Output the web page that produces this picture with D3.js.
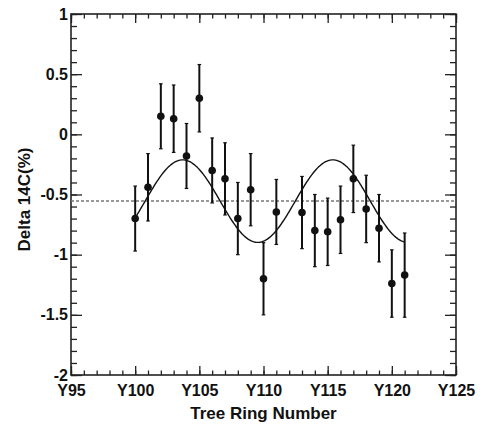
<!DOCTYPE html>
<html>
<head>
<meta charset="utf-8">
<script src="https://cdn.jsdelivr.net/npm/d3@7"></script>
<style>
  body { margin: 0; background: #fff; }
  svg text { font-family: "Liberation Sans", Arial, sans-serif; font-weight: bold; fill: #111; }
</style>
</head>
<body>
<svg id="chart" width="480" height="432"></svg>
<script>
// measured points
const years = [100, 101, 102, 103, 104, 105, 106, 107, 108, 109, 110, 111,
               113, 114, 115, 116, 117, 118, 119, 120, 121];
const delta14C = [-0.70, -0.44, 0.15, 0.13, -0.18, 0.30, -0.30, -0.37, -0.70, -0.46, -1.20, -0.645,
                  -0.65, -0.80, -0.81, -0.71, -0.37, -0.62, -0.78, -1.24, -1.17];
const errors = [0.27, 0.28, 0.27, 0.28, 0.27, 0.28, 0.27, 0.30, 0.30, 0.30, 0.30, 0.27,
                0.30, 0.30, 0.28, 0.28, 0.28, 0.28, 0.28, 0.28, 0.35];

// fitted sine model
const baseline = -0.555;
const fitAmplitude = 0.343;
const fitPeriod = 11.7;
const fitPeak = 103.7;
const fitRange = [100, 121];

// axis ticks
const xTicks = [95, 100, 105, 110, 115, 120, 125];
const xTickLabels = ["Y95", "Y100", "Y105", "Y110", "Y115", "Y120", "Y125"];
const yTicks = [-2, -1.5, -1, -0.5, 0, 0.5, 1];
const yTickLabels = ["-2", "-1.5", "-1", "-0.5", "0", "0.5", "1"];

const width = 480, height = 432;
const margin = {top: 14, right: 24, bottom: 57, left: 71};

const svg = d3.select("#chart");

const x = d3.scaleLinear()
    .domain([95, 125])
    .range([margin.left, width - margin.right]);
const y = d3.scaleLinear()
    .domain([-2, 1])
    .range([height - margin.bottom, margin.top]);

const xMinor = d3.range(95, 125.5, 1);
const yMinor = d3.range(-20, 11).map(d => d / 10);

const tickColor = "#222";

function styleAxis(g) {
    g.select(".domain").remove();
    g.selectAll(".tick line").attr("stroke", tickColor).attr("stroke-width", 1.3);
    g.selectAll("text").attr("font-size", 16);
}

// bottom axis
svg.append("g")
    .attr("transform", `translate(0,${y(-2)})`)
    .call(d3.axisBottom(x).tickValues(xMinor).tickSize(-4.5).tickFormat(""))
    .call(styleAxis);
svg.append("g")
    .attr("transform", `translate(0,${y(-2)})`)
    .call(d3.axisBottom(x).tickValues(xTicks).tickSize(-9).tickPadding(10)
        .tickFormat((d, i) => xTickLabels[i]))
    .call(styleAxis);

// top axis
svg.append("g")
    .attr("transform", `translate(0,${y(1)})`)
    .call(d3.axisTop(x).tickValues(xMinor).tickSize(-4.5).tickFormat(""))
    .call(styleAxis);
svg.append("g")
    .attr("transform", `translate(0,${y(1)})`)
    .call(d3.axisTop(x).tickValues(xTicks).tickSize(-9).tickFormat(""))
    .call(styleAxis);

// left axis
svg.append("g")
    .attr("transform", `translate(${x(95)},0)`)
    .call(d3.axisLeft(y).tickValues(yMinor).tickSize(-6).tickFormat(""))
    .call(styleAxis);
svg.append("g")
    .attr("transform", `translate(${x(95)},0)`)
    .call(d3.axisLeft(y).tickValues(yTicks).tickSize(-11).tickPadding(3)
        .tickFormat((d, i) => yTickLabels[i]))
    .call(styleAxis);

// right axis
svg.append("g")
    .attr("transform", `translate(${x(125)},0)`)
    .call(d3.axisRight(y).tickValues(yMinor).tickSize(-6).tickFormat(""))
    .call(styleAxis);
svg.append("g")
    .attr("transform", `translate(${x(125)},0)`)
    .call(d3.axisRight(y).tickValues(yTicks).tickSize(-11).tickFormat(""))
    .call(styleAxis);

// frame
svg.append("rect")
    .attr("x", x(95))
    .attr("y", y(1))
    .attr("width", x(125) - x(95))
    .attr("height", y(-2) - y(1))
    .attr("fill", "none")
    .attr("stroke", tickColor)
    .attr("stroke-width", 1.6);

// dashed baseline
svg.append("line")
    .attr("x1", x(95))
    .attr("x2", x(125))
    .attr("y1", y(baseline))
    .attr("y2", y(baseline))
    .attr("stroke", "#777")
    .attr("stroke-width", 1.5)
    .attr("stroke-dasharray", "3,2");

// fit curve
const fitX = d3.range(fitRange[0], fitRange[1] + 0.001, 0.1);
svg.append("path")
    .datum(fitX)
    .attr("fill", "none")
    .attr("stroke", "#111")
    .attr("stroke-width", 1.4)
    .attr("d", d3.line()
        .x(d => x(d))
        .y(d => y(baseline + fitAmplitude * Math.cos(2 * Math.PI * (d - fitPeak) / fitPeriod)))
    );

// error bars
const points = years.map((yr, i) => ({yr: yr, v: delta14C[i], e: errors[i]}));

const bars = svg.append("g").attr("stroke", "#111").attr("stroke-width", 2);
bars.selectAll(".err")
    .data(points)
    .enter()
    .append("line")
    .attr("class", "err")
    .attr("x1", d => x(d.yr))
    .attr("x2", d => x(d.yr))
    .attr("y1", d => y(d.v + d.e))
    .attr("y2", d => y(d.v - d.e));
bars.selectAll(".capTop")
    .data(points)
    .enter()
    .append("line")
    .attr("class", "capTop")
    .attr("stroke-width", 1.2)
    .attr("x1", d => x(d.yr) - 1.8)
    .attr("x2", d => x(d.yr) + 1.8)
    .attr("y1", d => y(d.v + d.e))
    .attr("y2", d => y(d.v + d.e));
bars.selectAll(".capBot")
    .data(points)
    .enter()
    .append("line")
    .attr("class", "capBot")
    .attr("stroke-width", 1.2)
    .attr("x1", d => x(d.yr) - 1.8)
    .attr("x2", d => x(d.yr) + 1.8)
    .attr("y1", d => y(d.v - d.e))
    .attr("y2", d => y(d.v - d.e));

// markers
svg.selectAll(".pt")
    .data(points)
    .enter()
    .append("circle")
    .attr("class", "pt")
    .attr("cx", d => x(d.yr))
    .attr("cy", d => y(d.v))
    .attr("r", 3.8)
    .attr("fill", "#111");

// axis titles
svg.append("text")
    .attr("x", (x(95) + x(125)) / 2)
    .attr("y", 419)
    .attr("text-anchor", "middle")
    .attr("font-size", 17)
    .text("Tree Ring Number");

svg.append("text")
    .attr("transform", `translate(30,${(y(-2) + y(1)) / 2 + 5}) rotate(-90)`)
    .attr("text-anchor", "middle")
    .attr("font-size", 17)
    .text("Delta 14C(%)");
</script>
</body>
</html>
